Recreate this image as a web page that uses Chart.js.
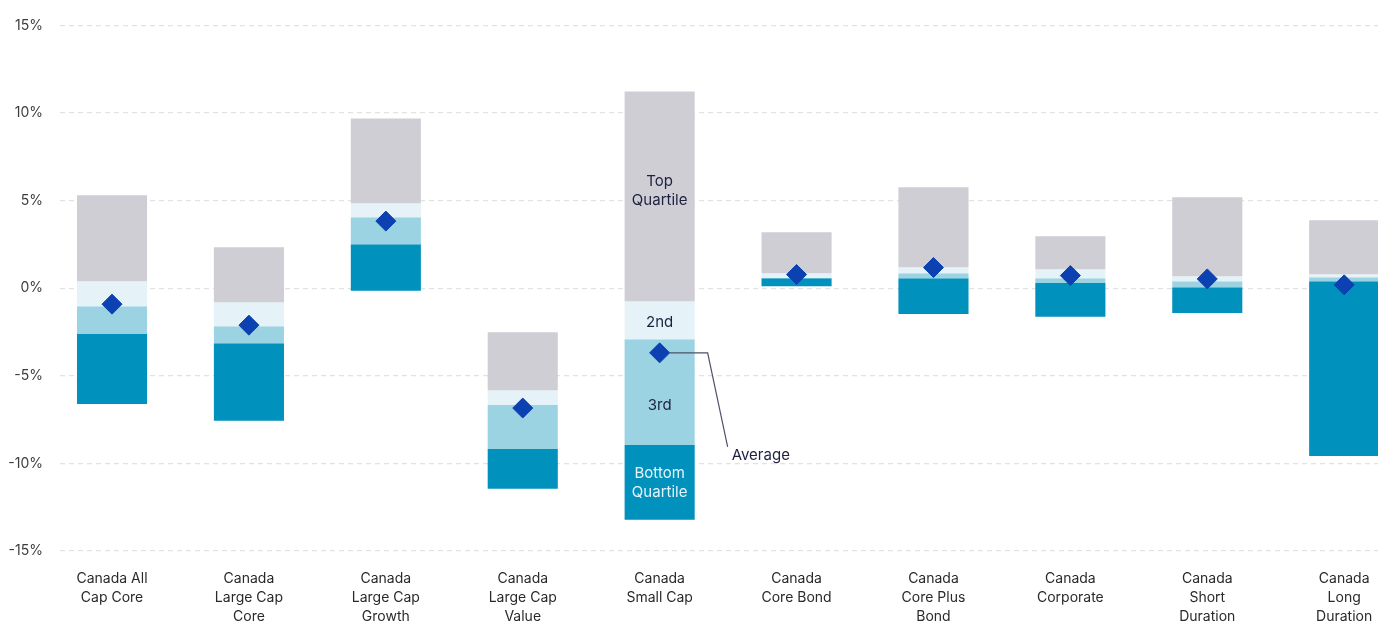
<!DOCTYPE html>
<html>
<head>
<meta charset="utf-8">
<title>Quartile ranges by category</title>
<script src="https://cdn.jsdelivr.net/npm/chart.js@4"></script>
<style>
	html, body { margin: 0; padding: 0; background: #fff; overflow: hidden; }
	#wrap { width: 1389px; height: 623px; position: relative; }
</style>
</head>
<body>
<div id="wrap"><canvas id="chartCanvas"></canvas></div>
<script>
// category labels, one line per array entry
const categories = [
	['Canada All', 'Cap Core'],
	['Canada', 'Large Cap', 'Core'],
	['Canada', 'Large Cap', 'Growth'],
	['Canada', 'Large Cap', 'Value'],
	['Canada', 'Small Cap'],
	['Canada', 'Core Bond'],
	['Canada', 'Core Plus', 'Bond'],
	['Canada', 'Corporate'],
	['Canada', 'Short', 'Duration'],
	['Canada', 'Long', 'Duration']
];

// quartile breakpoints (%), top of range down to bottom of range
const rangeTop    = [5.30, 2.34, 9.69, -2.51, 11.23, 3.19, 5.76, 2.96, 5.19, 3.88];
const upperQ      = [0.40, -0.80, 4.85, -5.82, -0.74, 0.86, 1.20, 1.08, 0.68, 0.80];
const median      = [-1.03, -2.17, 4.05, -6.67, -2.91, 0.59, 0.86, 0.57, 0.40, 0.63];
const lowerQ      = [-2.62, -3.14, 2.51, -9.18, -8.95, 0.57, 0.57, 0.29, 0.06, 0.40];
const rangeBottom = [-6.61, -7.56, -0.15, -11.44, -13.21, 0.11, -1.47, -1.63, -1.41, -9.58];
const average     = [-0.91, -2.11, 3.83, -6.84, -3.69, 0.78, 1.18, 0.72, 0.53, 0.19];

const yTicks = [-15, -10, -5, 0, 5, 10, 15];

// x range in category units, leaves a wider margin on the left
const xMin = -0.38;
const xMax = 9.247;

// which column carries the quartile captions and the "Average" callout
const captionIndex = 4;

const colors = {
	top: '#cfced4',
	second: '#e5f2f7',
	third: '#9cd3e3',
	bottom: '#0091bd',
	avg: '#0b41b0'
};

function floating(hi, lo) {
	return hi.map((h, i) => ({ x: i, y: [lo[i], h] }));
}

function quartileSet(label, hi, lo, color) {
	return {
		type: 'bar',
		label,
		data: floating(hi, lo),
		backgroundColor: color,
		grouped: false,
		barPercentage: 0.512,
		categoryPercentage: 1,
		order: 1
	};
}

// captions inside the small cap bar + the average callout
const captionPlugin = {
	id: 'captions',
	afterDatasetsDraw(chart) {
		const ctx = chart.ctx;
		const i = captionIndex;
		const segs = [
			{ ds: 0, lines: ['Top', 'Quartile'], color: '#1c2140', dy: -5 },
			{ ds: 1, lines: ['2nd'], color: '#1c2140', dy: 2 },
			{ ds: 2, lines: ['3rd'], color: '#1c2140', dy: 13 },
			{ ds: 3, lines: ['Bottom', 'Quartile'], color: '#e6f3f9', dy: 1 }
		];
		ctx.save();
		ctx.font = '15px Inter';
		ctx.textAlign = 'center';
		ctx.textBaseline = 'middle';
		segs.forEach(s => {
			const bar = chart.getDatasetMeta(s.ds).data[i];
			const cy = (bar.y + bar.base) / 2 + s.dy;
			const lh = 19;
			const start = cy - (s.lines.length - 1) * lh / 2;
			ctx.fillStyle = s.color;
			s.lines.forEach((t, k) => ctx.fillText(t, bar.x, start + k * lh));
		});

		const pt = chart.getDatasetMeta(4).data[i];
		ctx.strokeStyle = '#4d5268';
		ctx.lineWidth = 1.2;
		ctx.beginPath();
		ctx.moveTo(pt.x + 10, pt.y);
		ctx.lineTo(pt.x + 48, pt.y);
		ctx.lineTo(pt.x + 68, pt.y + 94);
		ctx.stroke();
		ctx.fillStyle = '#1c2140';
		ctx.textAlign = 'left';
		ctx.fillText('Average', pt.x + 72, pt.y + 103);
		ctx.restore();
	}
};

function buildChart() {
	Chart.defaults.font.family = 'Inter, "Noto Sans", sans-serif';
	const ctx = document.getElementById('chartCanvas').getContext('2d');
	new Chart(ctx, {
		type: 'bar',
		data: {
			datasets: [
				quartileSet('Top Quartile', rangeTop, upperQ, colors.top),
				quartileSet('2nd', upperQ, median, colors.second),
				quartileSet('3rd', median, lowerQ, colors.third),
				quartileSet('Bottom Quartile', lowerQ, rangeBottom, colors.bottom),
				{
					type: 'scatter',
					label: 'Average',
					data: average.map((v, i) => ({ x: i, y: v })),
					pointStyle: 'rectRot',
					pointRadius: 10,
					pointBorderWidth: 1,
					backgroundColor: colors.avg,
					borderColor: colors.avg,
					order: 0
				}
			]
		},
		options: {
			responsive: true,
			maintainAspectRatio: false,
			animation: false,
			layout: { padding: { top: 25, left: 0, right: 0, bottom: 0 } },
			plugins: {
				legend: { display: false },
				tooltip: { enabled: false }
			},
			scales: {
				x: {
					type: 'linear',
					offset: false,
					bounds: 'data',
					min: xMin,
					max: xMax,
					grid: { display: false },
					border: { display: false },
					afterBuildTicks: scale => {
						scale.ticks = categories.map((_, i) => ({ value: i }));
						scale.min = xMin;
						scale.max = xMax;
					},
					afterFit: scale => { scale.height = 72; },
					ticks: {
						autoSkip: false,
						maxRotation: 0,
						padding: 10,
						color: '#2a2a2a',
						font: { size: 14, lineHeight: 1.36 },
						callback: v => categories[v]
					}
				},
				y: {
					min: -15,
					max: 15,
					afterBuildTicks: scale => {
						scale.ticks = yTicks.map(v => ({ value: v }));
					},
					afterFit: scale => { scale.width = 60; },
					grid: { color: '#e2e2e2', lineWidth: 1.3, drawTicks: false },
					border: { display: false, dash: [5, 4] },
					ticks: {
						padding: 17,
						color: '#3d3d3d',
						font: { size: 14 },
						callback: v => v + '%'
					}
				}
			}
		},
		plugins: [captionPlugin]
	});
}

window.addEventListener('DOMContentLoaded', buildChart);
</script>
</body>
</html>
